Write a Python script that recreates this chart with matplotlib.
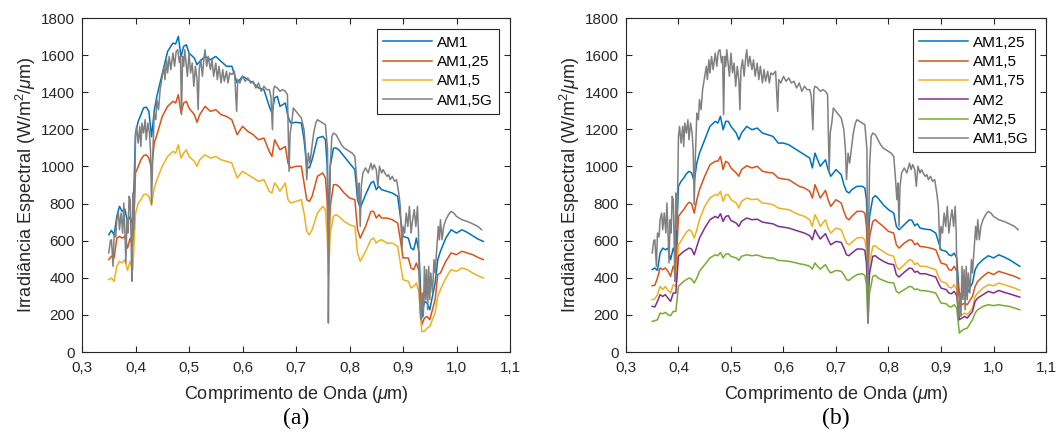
import matplotlib
matplotlib.use("Agg")
import matplotlib.pyplot as plt

plt.rcParams["font.family"] = ["Liberation Sans", "DejaVu Sans"]
plt.rcParams["mathtext.fontset"] = "custom"
plt.rcParams["mathtext.rm"] = "Liberation Sans"
plt.rcParams["mathtext.it"] = "Liberation Sans:italic"

# common wavelength grid of the smoothed spectra (um)
wl = [0.350, 0.355, 0.360, 0.365, 0.370, 0.375, 0.380, 0.385, 0.390, 0.395,
      0.400, 0.405, 0.410, 0.415, 0.420, 0.425, 0.430, 0.435, 0.440, 0.450,
      0.460, 0.470, 0.475, 0.480, 0.485, 0.490, 0.495, 0.500, 0.510, 0.515,
      0.520, 0.530, 0.540, 0.550, 0.560, 0.570, 0.580, 0.590, 0.600, 0.610,
      0.620, 0.630, 0.640, 0.650, 0.655, 0.660, 0.665, 0.670, 0.680, 0.685,
      0.690, 0.700, 0.710, 0.715, 0.720, 0.725, 0.730, 0.740, 0.750, 0.755,
      0.758, 0.761, 0.764, 0.770, 0.775, 0.780, 0.790, 0.800, 0.810, 0.815,
      0.820, 0.830, 0.840, 0.845, 0.850, 0.855, 0.860, 0.870, 0.880, 0.890,
      0.895, 0.900, 0.910, 0.915, 0.920, 0.925, 0.930, 0.935, 0.940, 0.945,
      0.950, 0.960, 0.965, 0.970, 0.980, 0.990, 1.000, 1.010, 1.020, 1.030,
      1.040, 1.050]

# panel (a)
a_am1 = [632, 656, 630, 731, 785, 758, 771, 704, 730, 680,
         1180, 1243, 1279, 1315, 1320, 1297, 1160, 1300, 1380, 1500,
         1620, 1665, 1660, 1701, 1593, 1647, 1656, 1611, 1584, 1548,
         1566, 1593, 1575, 1593, 1566, 1540, 1540, 1450, 1486, 1468,
         1450, 1423, 1414, 1324, 1288, 1369, 1378, 1324, 1342, 1270,
         1234, 1238, 1234, 1144, 1001, 992, 1036, 1153, 1162, 1144,
         1018, 690, 1001, 1099, 1099, 1090, 1054, 1018, 983, 821,
         776, 848, 911, 920, 875, 893, 875, 866, 857, 839,
         731, 623, 614, 560, 551, 614, 533, 183, 273, 264,
         228, 372, 498, 543, 614, 659, 641, 659, 645, 627,
         609, 596]
a_am125 = [498, 516, 507, 614, 623, 614, 623, 560, 614, 569,
           965, 1000, 1036, 1058, 1063, 1045, 985, 1126, 1171, 1270,
           1324, 1351, 1342, 1387, 1288, 1342, 1351, 1315, 1279, 1238,
           1279, 1324, 1297, 1306, 1279, 1270, 1252, 1171, 1216, 1189,
           1171, 1144, 1153, 1081, 1054, 1144, 1117, 1090, 1108, 1018,
           992, 1001, 1001, 911, 821, 812, 839, 947, 965, 938,
           821, 520, 785, 902, 902, 893, 857, 830, 821, 659,
           614, 677, 758, 758, 722, 740, 722, 722, 713, 695,
           605, 507, 507, 453, 444, 480, 435, 147, 183, 192,
           174, 282, 417, 426, 489, 534, 525, 543, 534, 525,
           510, 498]
a_am15 = [390, 399, 381, 462, 489, 480, 498, 440, 489, 444,
          749, 800, 821, 848, 851, 839, 794, 884, 929, 1001,
          1054, 1081, 1072, 1117, 1045, 1072, 1090, 1054, 1028, 1001,
          1036, 1063, 1045, 1054, 1036, 1028, 1019, 938, 974, 956,
          938, 920, 929, 866, 857, 911, 893, 866, 911, 821,
          803, 812, 821, 749, 650, 632, 659, 749, 785, 767,
          641, 420, 640, 731, 740, 731, 704, 686, 677, 533,
          489, 543, 605, 614, 587, 600, 605, 587, 587, 569,
          480, 390, 381, 345, 354, 372, 318, 111, 111, 129,
          138, 210, 300, 336, 399, 444, 435, 453, 444, 426,
          411, 399]

# panel (b)
b_am125 = [444, 453, 440, 534, 560, 551, 560, 498, 560, 520,
           893, 920, 938, 960, 974, 965, 920, 1019, 1072, 1144,
           1216, 1243, 1234, 1270, 1198, 1243, 1243, 1216, 1180, 1144,
           1180, 1216, 1198, 1207, 1180, 1171, 1162, 1126, 1126, 1117,
           1099, 1081, 1063, 1045, 992, 1072, 1036, 1001, 1036, 983,
           947, 983, 956, 902, 866, 857, 875, 893, 893, 884,
           821, 560, 731, 830, 843, 830, 794, 767, 749, 677,
           659, 686, 713, 709, 680, 691, 668, 662, 659, 641,
           596, 551, 542, 524, 519, 533, 507, 300, 318, 327,
           318, 372, 444, 471, 498, 519, 507, 524, 512, 498,
           480, 462]
b_am15 = [357, 360, 399, 453, 444, 453, 435, 408, 462, 426,
          731, 750, 767, 790, 807, 800, 749, 821, 875, 947,
          1010, 1028, 1028, 1054, 983, 1028, 1019, 992, 965, 947,
          983, 1004, 992, 1001, 974, 968, 965, 938, 932, 929,
          911, 893, 884, 866, 830, 902, 866, 830, 871, 821,
          785, 821, 803, 758, 722, 713, 731, 758, 758, 749,
          677, 420, 623, 704, 713, 700, 677, 650, 641, 578,
          560, 587, 605, 602, 578, 587, 569, 566, 560, 551,
          516, 480, 471, 444, 440, 462, 435, 282, 255, 264,
          255, 300, 354, 381, 408, 430, 417, 435, 426, 417,
          408, 395]
b_am175 = [282, 286, 309, 354, 336, 354, 333, 318, 363, 354,
           578, 600, 623, 645, 659, 650, 614, 659, 713, 785,
           830, 848, 843, 866, 812, 848, 848, 821, 803, 776,
           812, 830, 821, 825, 803, 800, 794, 776, 771, 767,
           753, 740, 731, 713, 677, 740, 713, 677, 713, 668,
           641, 668, 659, 623, 587, 578, 591, 614, 618, 605,
           542, 330, 480, 569, 573, 560, 542, 524, 516, 462,
           444, 471, 498, 494, 471, 480, 462, 462, 453, 444,
           408, 381, 372, 350, 345, 363, 336, 210, 201, 210,
           201, 237, 300, 318, 345, 363, 357, 372, 363, 354,
           345, 333]
b_am2 = [246, 243, 273, 309, 300, 309, 291, 273, 318, 318,
         516, 530, 542, 551, 560, 555, 524, 569, 614, 668,
         713, 731, 722, 745, 704, 731, 735, 709, 695, 677,
         704, 722, 713, 716, 700, 695, 691, 677, 673, 668,
         659, 650, 641, 627, 605, 659, 632, 609, 638, 605,
         578, 596, 591, 560, 524, 519, 533, 555, 555, 548,
         480, 264, 426, 516, 519, 507, 489, 476, 471, 417,
         404, 430, 453, 449, 430, 435, 422, 422, 413, 404,
         372, 345, 336, 318, 314, 327, 305, 174, 183, 192,
         183, 219, 273, 291, 309, 327, 318, 332, 322, 314,
         305, 296]
b_am25 = [165, 169, 174, 210, 206, 214, 201, 196, 219, 219,
          354, 368, 381, 390, 399, 393, 372, 399, 435, 471,
          507, 524, 519, 537, 507, 528, 530, 516, 507, 494,
          516, 524, 519, 523, 512, 507, 507, 494, 492, 489,
          483, 476, 471, 462, 447, 480, 462, 447, 471, 444,
          426, 440, 435, 417, 390, 386, 399, 417, 422, 413,
          363, 156, 318, 408, 413, 399, 386, 375, 372, 327,
          318, 336, 354, 350, 336, 340, 332, 330, 325, 318,
          291, 264, 260, 246, 243, 255, 237, 102, 117, 124,
          129, 174, 210, 228, 246, 255, 250, 255, 250, 246,
          237, 228]

# AM1,5G global spectrum (same in both panels), finer grid
wl_g = [0.350, 0.353, 0.355, 0.358, 0.360, 0.363, 0.365, 0.368, 0.370, 0.373,
        0.376, 0.378, 0.380, 0.382, 0.384, 0.386, 0.388, 0.390, 0.392, 0.393,
        0.395, 0.397, 0.399, 0.400, 0.402, 0.405, 0.408, 0.410, 0.412, 0.415,
        0.418, 0.420, 0.423, 0.426, 0.428, 0.430, 0.432, 0.435, 0.438, 0.440,
        0.443, 0.446, 0.450, 0.453, 0.455, 0.458, 0.460, 0.463, 0.466, 0.470,
        0.473, 0.476, 0.479, 0.482, 0.484, 0.486, 0.488, 0.490, 0.492, 0.495,
        0.497, 0.500, 0.503, 0.506, 0.509, 0.512, 0.515, 0.517, 0.519, 0.522,
        0.525, 0.528, 0.530, 0.533, 0.536, 0.540, 0.543, 0.546, 0.550, 0.553,
        0.556, 0.560, 0.563, 0.566, 0.570, 0.573, 0.576, 0.580, 0.585, 0.589,
        0.591, 0.595, 0.600, 0.605, 0.610, 0.615, 0.620, 0.625, 0.630, 0.635,
        0.640, 0.645, 0.650, 0.653, 0.656, 0.658, 0.660, 0.665, 0.670, 0.675,
        0.680, 0.684, 0.687, 0.689, 0.692, 0.695, 0.700, 0.705, 0.710, 0.715,
        0.718, 0.720, 0.723, 0.726, 0.730, 0.733, 0.737, 0.740, 0.745, 0.750,
        0.755, 0.759, 0.7605, 0.762, 0.764, 0.767, 0.770, 0.775, 0.780, 0.785,
        0.790, 0.795, 0.800, 0.805, 0.810, 0.813, 0.816, 0.818, 0.820, 0.822,
        0.825, 0.830, 0.835, 0.840, 0.843, 0.846, 0.850, 0.853, 0.856, 0.860,
        0.863, 0.866, 0.870, 0.873, 0.876, 0.880, 0.884, 0.888, 0.892, 0.895,
        0.898, 0.900, 0.903, 0.906, 0.909, 0.912, 0.915, 0.918, 0.921, 0.924,
        0.927, 0.929, 0.931, 0.933, 0.936, 0.938, 0.940, 0.942, 0.944, 0.946,
        0.948, 0.950, 0.952, 0.955, 0.958, 0.960, 0.963, 0.966, 0.968, 0.970,
        0.973, 0.976, 0.980, 0.985, 0.990, 0.995, 1.000, 1.005, 1.010, 1.020,
        1.030, 1.040, 1.047]
am15g = [534, 600, 605, 462, 641, 620, 713, 749, 659, 749,
         641, 803, 659, 480, 713, 641, 839, 821, 569, 381,
         857, 659, 965, 1162, 1216, 1126, 1216, 1108, 1234, 1180,
         1252, 1144, 1234, 1180, 1090, 794, 1036, 1288, 1252, 1360,
         1306, 1414, 1486, 1540, 1468, 1575, 1504, 1593, 1522, 1611,
         1540, 1620, 1629, 1560, 1593, 1279, 1593, 1540, 1629, 1540,
         1486, 1611, 1504, 1557, 1432, 1540, 1468, 1306, 1522, 1575,
         1486, 1584, 1629, 1540, 1593, 1522, 1575, 1486, 1557, 1468,
         1540, 1450, 1522, 1459, 1513, 1450, 1504, 1495, 1513, 1297,
         1468, 1450, 1486, 1459, 1477, 1450, 1459, 1423, 1450, 1405,
         1432, 1414, 1414, 1378, 1198, 1414, 1432, 1423, 1405, 1414,
         1405, 1387, 974, 1180, 1234, 1315, 1297, 1279, 1261, 1198,
         1090, 929, 1072, 1018, 1108, 1180, 1234, 1252, 1243, 1234,
         1225, 1090, 156, 641, 1001, 1162, 1180, 1171, 1144, 1117,
         1099, 1090, 1081, 1072, 1054, 947, 821, 911, 677, 893,
         965, 992, 965, 1018, 983, 1010, 983, 893, 1001, 965,
         983, 965, 947, 956, 929, 947, 920, 929, 857, 785,
         551, 677, 641, 749, 677, 785, 641, 713, 767, 677,
         785, 641, 282, 174, 318, 192, 462, 282, 444, 228,
         462, 282, 426, 318, 498, 426, 551, 677, 605, 713,
         605, 677, 713, 740, 758, 749, 731, 722, 713, 704,
         691, 677, 659]

xticks = [0.3, 0.4, 0.5, 0.6, 0.7, 0.8, 0.9, 1.0, 1.1]
xtick_labels = ["0,3", "0,4", "0,5", "0,6", "0,7", "0,8", "0,9", "1,0", "1,1"]
yticks = [0, 200, 400, 600, 800, 1000, 1200, 1400, 1600, 1800]

C_BLUE = "#0072BD"
C_ORANGE = "#D95319"
C_YELLOW = "#EDB120"
C_PURPLE = "#7E2F8E"
C_GREEN = "#77AC30"
C_GRAY = "#808080"
TXT = "#262626"


def style_axes(ax):
    ax.set_xlim(0.3, 1.1)
    ax.set_ylim(0, 1800)
    ax.set_xticks(xticks)
    ax.set_xticklabels(xtick_labels)
    ax.set_yticks(yticks)
    ax.tick_params(direction="in", top=True, right=True, length=4,
                   width=0.8, labelsize=11, colors=TXT)
    ax.tick_params(axis="x", pad=6.5)
    ax.tick_params(axis="y", pad=5)
    for sp in ax.spines.values():
        sp.set_color(TXT)
        sp.set_linewidth(0.8)
    ax.set_xlabel(r"Comprimento de Onda ($\mu$m)", fontsize=13, color=TXT,
                  labelpad=6.5)
    ax.set_ylabel(r"Irradiância Espectral (W/m$^2$/$\mu$m)", fontsize=13,
                  color=TXT, labelpad=2)


fig = plt.figure(figsize=(10.57, 4.33), dpi=100)
ax1 = fig.add_axes([0.0776, 0.187, 0.4049, 0.7714])
ax2 = fig.add_axes([0.5922, 0.187, 0.3974, 0.7714])

lw = 1.1
ax1.plot(wl, a_am1, color=C_BLUE, lw=lw, label="AM1")
ax1.plot(wl, a_am125, color=C_ORANGE, lw=lw, label="AM1,25")
ax1.plot(wl, a_am15, color=C_YELLOW, lw=lw, label="AM1,5")
ax1.plot(wl_g, am15g, color=C_GRAY, lw=lw, label="AM1,5G")

ax2.plot(wl, b_am125, color=C_BLUE, lw=lw, label="AM1,25")
ax2.plot(wl, b_am15, color=C_ORANGE, lw=lw, label="AM1,5")
ax2.plot(wl, b_am175, color=C_YELLOW, lw=lw, label="AM1,75")
ax2.plot(wl, b_am2, color=C_PURPLE, lw=lw, label="AM2")
ax2.plot(wl, b_am25, color=C_GREEN, lw=lw, label="AM2,5")
ax2.plot(wl_g, am15g, color=C_GRAY, lw=lw, label="AM1,5G")

for ax, tag in [(ax1, "(a)"), (ax2, "(b)")]:
    style_axes(ax)
    leg = ax.legend(loc="upper right", fontsize=11, fancybox=False,
                    edgecolor=TXT, framealpha=1, handlelength=3.2,
                    labelspacing=0.35, borderaxespad=0.75, borderpad=0.4,
                    handletextpad=0.3)
    leg.get_frame().set_linewidth(0.8)
    ax.text(0.5, -0.2, tag, transform=ax.transAxes, ha="center",
            va="center", fontsize=17, family="Liberation Serif")

fig.savefig("out.png", dpi=100)
